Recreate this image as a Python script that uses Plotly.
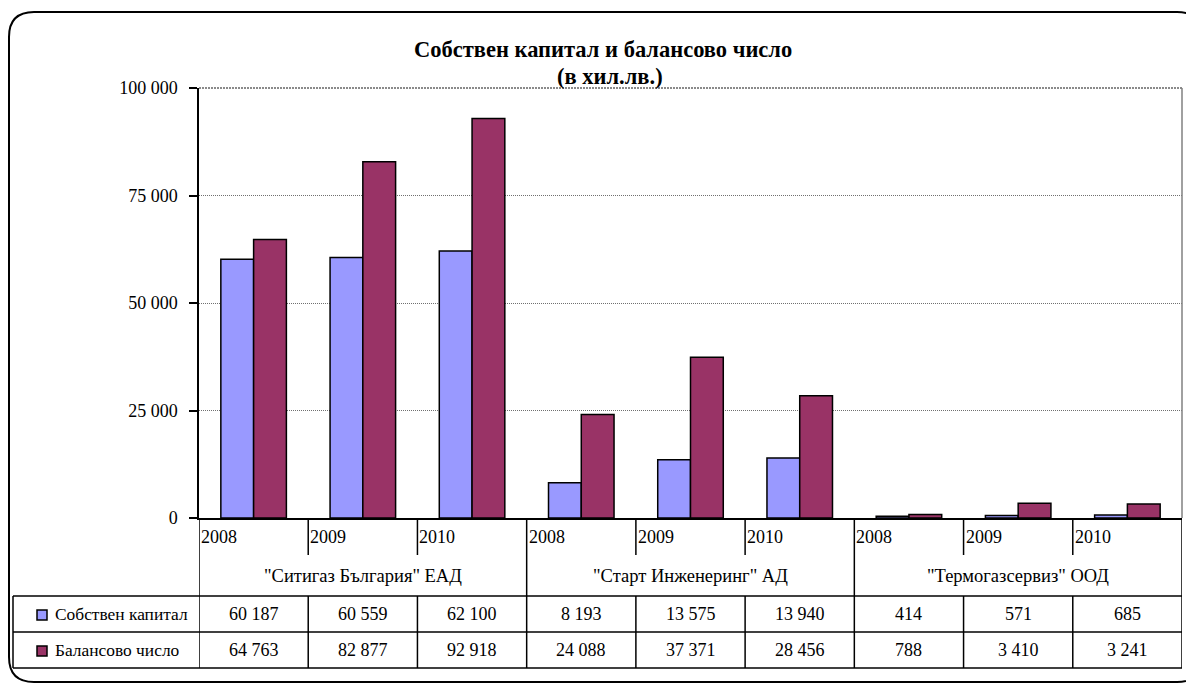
import plotly.graph_objects as go

# ---------------- data ----------------
companies = ['"Ситигаз България" ЕАД', '"Старт Инженеринг" АД', '"Термогазсервиз" ООД']
years = ["2008", "2009", "2010"]
series_names = ["Собствен капитал", "Балансово число"]
equity = [60187, 60559, 62100, 8193, 13575, 13940, 414, 571, 685]
balance = [64763, 82877, 92918, 24088, 37371, 28456, 788, 3410, 3241]
y_ticks = [0, 25000, 50000, 75000, 100000]
title_line1 = "Собствен капитал и балансово число"
title_line2 = "(в хил.лв.)"

colors = ["#9999FF", "#993366"]
FONT = "Liberation Serif"

def fmt(v):
    return f"{v:,}".replace(",", " ")

cats = [f"{c} {y}" for c in companies for y in years]
n = len(cats)

# ---------------- layout geometry (pixels) ----------------
W, H = 1186, 684
ML, MR, MT, MB = 199, 4, 88, 166
PW, PH = W - ML - MR, H - MT - MB

def px(x):
    return (x - ML) / PW

def py(y):
    return (H - MB - y) / PH

fig = go.Figure()
for name, vals, col in zip(series_names, [equity, balance], colors):
    fig.add_trace(go.Bar(
        x=cats, y=vals, name=name,
        marker=dict(color=col, line=dict(color="black", width=1.5)),
        showlegend=False,
    ))

GRID = dict(color="#707070", width=1, dash="1px,1px")
shapes = []
annotations = []

shapes.append(dict(type="line", xref="paper", yref="paper", x0=0, x1=1, y0=1, y1=1,
                   line=dict(color="#8a8a8a", width=2, dash="2px,1px"), layer="below"))
shapes.append(dict(type="line", xref="paper", yref="paper", x0=1, x1=1, y0=0, y1=1,
                   line=dict(color="#808080", width=1.5)))

Y_HDR_TOP, Y_YEAR_TICK, Y_R1, Y_R2, Y_R3 = 518, 555, 596, 632, 668
X_TABLE_LEFT = 13

for yy in [Y_R1, Y_R2, Y_R3]:
    shapes.append(dict(type="line", xref="paper", yref="paper", x0=px(X_TABLE_LEFT), x1=1,
                       y0=py(yy), y1=py(yy), line=dict(color="black", width=1.5)))
shapes.append(dict(type="line", xref="paper", yref="paper", x0=px(X_TABLE_LEFT), x1=px(X_TABLE_LEFT),
                   y0=py(Y_R1), y1=py(Y_R3), line=dict(color="black", width=1.5)))
for i in range(n + 1):
    xb = i - 0.5
    if i % 3 == 0:
        shapes.append(dict(type="line", xref="x", yref="paper", x0=xb, x1=xb,
                           y0=py(Y_HDR_TOP), y1=py(Y_R3), line=dict(color="black", width=1.5)))
    else:
        shapes.append(dict(type="line", xref="x", yref="paper", x0=xb, x1=xb,
                           y0=py(Y_HDR_TOP), y1=py(Y_YEAR_TICK), line=dict(color="black", width=1.5)))
        shapes.append(dict(type="line", xref="x", yref="paper", x0=xb, x1=xb,
                           y0=py(Y_R1), y1=py(Y_R3), line=dict(color="black", width=1.5)))

TF = dict(family=FONT, size=18, color="black")
for i, c in enumerate(cats):
    annotations.append(dict(xref="x", yref="paper", x=i - 0.5, y=py(537), text=years[i % 3],
                            showarrow=False, xanchor="left", yanchor="middle", xshift=0, font=TF))
for g, comp in enumerate(companies):
    annotations.append(dict(xref="x", yref="paper", x=3 * g + 1, y=py(576), text=comp,
                            showarrow=False, xanchor="center", yanchor="middle",
                            font=dict(family=FONT, size=18.5, color="black")))
for row_y, vals in zip([614, 650], [equity, balance]):
    for i, v in enumerate(vals):
        annotations.append(dict(xref="x", yref="paper", x=i, y=py(row_y), text=fmt(v),
                                showarrow=False, xanchor="center", yanchor="middle", font=TF))
for row_y, name, col in zip([615, 651], series_names, colors):
    shapes.append(dict(type="rect", xref="paper", yref="paper", x0=px(37), x1=px(47),
                       y0=py(row_y - 5), y1=py(row_y + 5), fillcolor=col,
                       line=dict(color="black", width=1.5)))
    annotations.append(dict(xref="paper", yref="paper", x=px(53), y=py(row_y - 1), text=name,
                            showarrow=False, xanchor="left", yanchor="middle",
                            font=dict(family=FONT, size=17.4, color="black")))

annotations.append(dict(xref="paper", yref="paper", x=px(603), y=py(49), text=f"<b>{title_line1}</b>",
                        showarrow=False, xanchor="center", yanchor="middle",
                        font=dict(family=FONT, size=22.5, color="black")))
annotations.append(dict(xref="paper", yref="paper", x=px(610), y=py(77), text=f"<b>{title_line2}</b>",
                        showarrow=False, xanchor="center", yanchor="middle",
                        font=dict(family=FONT, size=22.5, color="black")))

L, R, T, B = px(9), px(1202), py(12), py(682)
rx, ry = 25 / PW, 25 / PH
path = (f"M {L+rx},{T} L {R-rx},{T} Q {R},{T} {R},{T-ry} L {R},{B+ry} Q {R},{B} {R-rx},{B} "
        f"L {L+rx},{B} Q {L},{B} {L},{B+ry} L {L},{T-ry} Q {L},{T} {L+rx},{T} Z")
shapes.append(dict(type="path", xref="paper", yref="paper", path=path,
                   line=dict(color="black", width=2)))

fig.update_layout(
    width=W, height=H,
    margin=dict(l=ML, r=MR, t=MT, b=MB),
    paper_bgcolor="white", plot_bgcolor="white",
    barmode="group", bargap=0.4, bargroupgap=0,
    font=dict(family=FONT, size=15, color="black"),
    shapes=shapes, annotations=annotations,
    showlegend=False,
)
fig.update_xaxes(range=[-0.5, n - 0.5], showticklabels=False, showgrid=False,
                 showline=True, linecolor="black", linewidth=1.5, ticks="")
fig.update_yaxes(range=[0, 100000], tickvals=y_ticks, ticktext=[fmt(v) for v in y_ticks],
                 ticks="outside", ticklen=8, tickcolor="black", tickwidth=1.5,
                 ticklabelstandoff=8,
                 showline=True, linecolor="black", linewidth=1.5,
                 showgrid=True, gridcolor=GRID["color"], griddash=GRID["dash"], gridwidth=1,
                 zeroline=False, tickfont=dict(family=FONT, size=18, color="black"))

fig.write_html("out.html", config={"displayModeBar": False},
               post_script="document.body.style.margin='0';")
